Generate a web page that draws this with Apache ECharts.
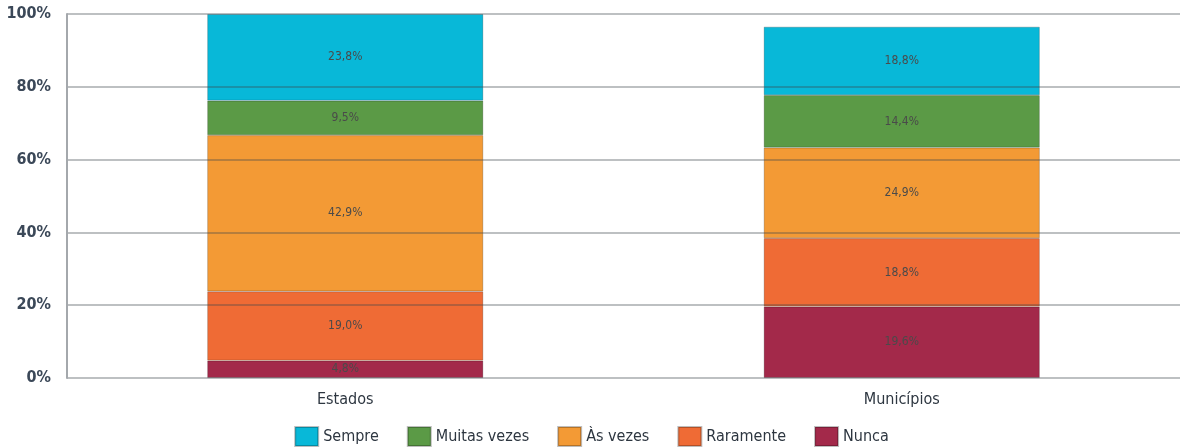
<!DOCTYPE html>
<html><head><meta charset="utf-8">
<script src="https://cdn.jsdelivr.net/npm/echarts@6/dist/echarts.min.js"></script>
<style>html,body{margin:0;padding:0;background:#fff}#c{width:1183px;height:448px}</style>
</head><body><div id="c"></div>
<script>
const categories = ["Estados", "Municípios"];
const seriesNames = ["Nunca", "Raramente", "Às vezes", "Muitas vezes", "Sempre"];
const nunca = [4.8, 19.6];
const raramente = [19.0, 18.8];
const asVezes = [42.9, 24.9];
const muitasVezes = [9.5, 14.4];
const sempre = [23.8, 18.8];
const yTicks = [0, 20, 40, 60, 80, 100];
const colors = ["#a3294a", "#ef6b35", "#f39a35", "#5b9a46", "#08b8d8"];
const values = [nunca, raramente, asVezes, muitasVezes, sempre];
const FONT = '"Liberation Sans Narrow", "DejaVu Sans Condensed", sans-serif';

const barSeries = seriesNames.map((n, i) => ({
  name: n, type: 'bar', stack: 'total', barWidth: 276, z: 2,
  data: values[i],
  itemStyle: {color: colors[i], borderColor: 'rgba(0,0,0,0.25)', borderWidth: 0.8},
  label: {show: true, position: 'inside', fontFamily: FONT, fontSize: 12, color: '#4a4a4a',
    formatter: p => p.value.toFixed(1).replace('.', ',') + '%'}
}));

const chart = echarts.init(document.getElementById('c'));
chart.setOption({
  animation: false,
  textStyle: {fontFamily: FONT},
  grid: {left: 67, right: 3, top: 14, bottom: 70},
  legend: {
    bottom: 1, left: 'center', padding: [0, 5],
    data: ["Sempre", "Muitas vezes", "Às vezes", "Raramente", "Nunca"],
    icon: 'rect', itemWidth: 23, itemHeight: 19, itemGap: 28,
    textStyle: {fontFamily: FONT, fontSize: 16, color: '#2d3640'}
  },
  xAxis: {
    type: 'category', data: categories,
    axisLine: {show: false}, axisTick: {show: false},
    axisLabel: {fontFamily: FONT, fontSize: 16, color: '#2d3640', margin: 14}
  },
  yAxis: {
    type: 'value', min: 0, max: 100, interval: 20, z: 10,
    axisLine: {show: true, lineStyle: {color: '#a4a8ac', width: 2}},
    axisTick: {show: false},
    splitLine: {show: true, lineStyle: {color: 'rgba(60,68,76,0.45)', width: 1.6}},
    axisLabel: {fontFamily: FONT, fontSize: 16, fontWeight: 'bold', color: '#3b4858', margin: 16,
      formatter: v => yTicks.includes(v) ? v + '%' : ''}
  },
  series: barSeries
});
</script></body></html>
